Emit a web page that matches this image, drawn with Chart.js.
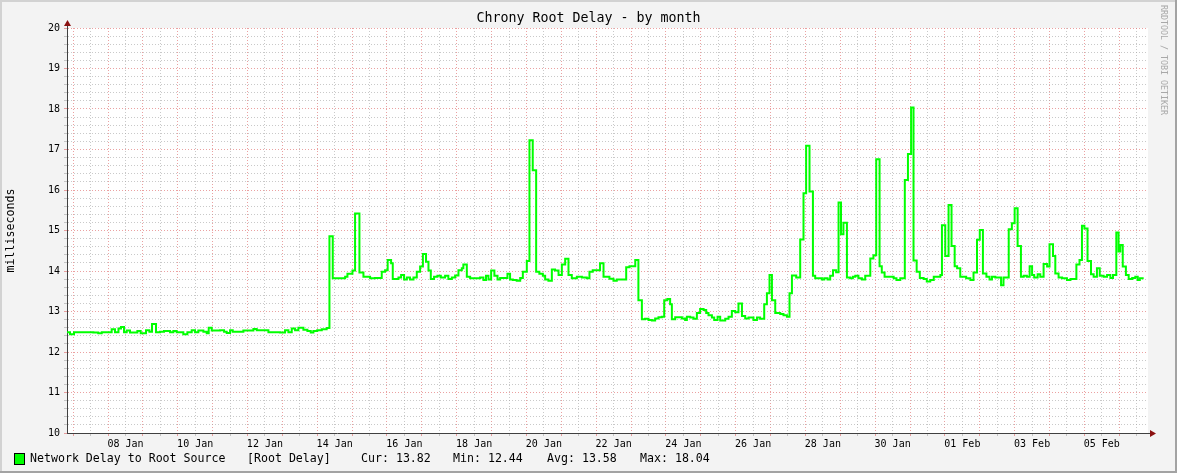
<!DOCTYPE html>
<html>
<head>
<meta charset="utf-8">
<title>Chrony Root Delay - by month</title>
<script src="https://cdn.jsdelivr.net/npm/chart.js@4.4.1/dist/chart.umd.min.js"></script>
<style>
  html, body { margin: 0; padding: 0; background: #f3f3f3; }
  #wrap { width: 1177px; height: 473px; }
</style>
</head>
<body>
<div id="wrap"><canvas id="rrd" width="1177" height="473"></canvas></div>
<script>
'use strict';

// ── Data ──────────────────────────────────────────────────────
// time of each step = days since 08 Jan 00:00, value holds until next step
const stepDays = [
  -1.176, -1.09, -0.975, -0.42, -0.28, -0.18, 0.105, 0.20, 0.30, 0.373,
  0.459, 0.535, 0.63, 0.842, 0.937, 1.09, 1.186, 1.262, 1.377, 1.49,
  1.606, 1.78, 1.874, 1.97, 2.16, 2.276, 2.40, 2.496, 2.59, 2.735,
  2.83, 2.888, 2.974, 3.213, 3.328, 3.404, 3.50, 3.576, 3.882, 4.17,
  4.265, 4.6, 4.934, 5.077, 5.173, 5.269, 5.364, 5.46, 5.603, 5.718,
  5.814, 5.89, 6.00, 6.13, 6.27,
  6.35, 6.445, 6.80, 6.866, 7.01, 7.085, 7.21, 7.325, 7.516, 7.66,
  7.85, 7.946, 8.02, 8.118, 8.166, 8.33, 8.405, 8.49, 8.57, 8.66,
  8.76, 8.855, 8.95, 9.03, 9.12, 9.19, 9.257, 9.35, 9.447, 9.544,
  9.667, 9.76, 9.86, 9.954, 10.05, 10.146, 10.19, 10.29, 10.385, 10.67,
  10.766, 10.84, 10.91, 10.987, 11.08, 11.17, 11.245, 11.455, 11.53, 11.61,
  11.72, 11.82, 11.896, 12.01, 12.086, 12.18, 12.278, 12.37, 12.47, 12.536,
  12.63, 12.728, 12.82, 12.92, 13.015, 13.11, 13.205, 13.30, 13.445, 13.59,
  13.73, 13.807, 13.90, 14.11, 14.21, 14.38, 14.495, 14.59, 14.86, 14.955,
  15.12, 15.21, 15.31, 15.40, 15.50, 15.597, 15.69, 15.786, 15.88, 15.95,
  16.04, 16.12, 16.17, 16.265, 16.457, 16.55, 16.60, 16.695, 16.79, 16.887,
  16.98, 17.08, 17.154, 17.22, 17.318, 17.384, 17.48, 17.556, 17.70, 17.795,
  17.89, 17.986, 18.08, 18.18, 18.273, 18.37, 18.51, 18.61, 18.70, 18.818,
  18.895, 18.97, 19.04, 19.134, 19.277, 19.37, 19.47, 19.544, 19.613, 19.736,
  19.85, 19.945, 20.02, 20.117, 20.215, 20.28, 20.47, 20.54, 20.635, 20.71,
  20.79, 20.88, 20.95, 21.02, 21.09, 21.19, 21.285, 21.36, 21.43, 21.52,
  21.62, 21.715, 21.86, 21.95, 22.03, 22.126, 22.19, 22.27, 22.53, 22.61,
  22.72, 22.85, 22.94, 23.03, 23.10, 23.19, 23.28, 23.39, 23.48, 23.58,
  23.68, 23.87, 23.915, 24.01, 24.105, 24.19, 24.28, 24.35, 24.44, 24.61,
  24.73, 24.82, 24.92, 25.0, 25.09, 25.19, 25.28, 25.35, 25.445, 25.61,
  25.68, 25.83, 25.92, 26.0, 26.085, 26.18, 26.26, 26.35, 26.43, 26.50,
  26.56, 26.66, 26.735, 26.83, 26.93, 27.0, 27.10, 27.166, 27.26, 27.36,
  27.50, 27.60, 27.77, 27.86, 27.93, 28.0, 28.09, 28.19, 28.265, 28.36,
  28.44, 28.55, 28.65, 28.745, 28.82, 28.915, 28.98, 29.03, 29.10, 29.19,
  29.27, 29.37, 29.46, 29.53, 29.59, 29.70
];

const delayMs = [
  12.49, 12.44, 12.49, 12.48, 12.46, 12.49, 12.56, 12.49, 12.58, 12.62,
  12.49, 12.53, 12.48, 12.52, 12.46, 12.54, 12.50, 12.69, 12.49, 12.50,
  12.52, 12.49, 12.52, 12.49, 12.44, 12.49, 12.54, 12.49, 12.53, 12.50,
  12.46, 12.60, 12.53, 12.54, 12.50, 12.47, 12.54, 12.50, 12.53, 12.57,
  12.54, 12.49, 12.48, 12.54, 12.49, 12.58, 12.54, 12.60, 12.55, 12.52,
  12.48, 12.52, 12.54, 12.56, 12.59,
  14.86, 13.82, 13.86, 13.93, 14.01, 15.42, 13.96, 13.86, 13.82, 13.83,
  13.98, 14.02, 14.27, 14.19, 13.80, 13.84, 13.90, 13.79, 13.84, 13.79,
  13.84, 13.98, 14.11, 14.42, 14.23, 14.01, 13.80, 13.86, 13.88, 13.84,
  13.88, 13.80, 13.84, 13.89, 14.02, 14.07, 14.16, 13.86, 13.82, 13.84,
  13.78, 13.88, 13.79, 14.01, 13.88, 13.79, 13.83, 13.93, 13.79, 13.78,
  13.76, 13.83, 13.98, 14.25, 17.23, 16.49, 13.98, 13.93, 13.88, 13.79,
  13.76, 14.04, 14.01, 13.90, 14.16, 14.30, 13.90, 13.82, 13.86, 13.84,
  13.82, 13.98, 14.02, 14.19, 13.86, 13.81, 13.76, 13.79, 14.09, 14.12,
  14.27, 13.28, 12.81, 12.82, 12.79, 12.78, 12.83, 12.86, 12.87, 13.28,
  13.31, 13.18, 12.81, 12.86, 12.83, 12.79, 12.87, 12.85, 12.82, 12.96,
  13.06, 13.04, 12.96, 12.91, 12.85, 12.79, 12.87, 12.78, 12.82, 12.87,
  13.01, 12.98, 13.20, 12.89, 12.83, 12.85, 12.79, 12.85, 12.82, 13.18,
  13.45, 13.90, 13.28, 12.96, 12.94, 12.91, 12.87, 13.45, 13.89, 13.84,
  14.78, 15.92, 17.09, 15.96, 13.88, 13.82, 13.79, 13.82, 13.79, 13.88,
  14.02, 13.97, 15.69, 14.91, 15.19, 13.84, 13.82, 13.86, 13.88, 13.82,
  13.79, 13.88, 14.31, 14.39, 16.76, 14.12, 13.96, 13.86, 13.82, 13.78,
  13.82, 16.25, 16.89, 18.04, 14.26, 13.98, 13.83, 13.80, 13.74, 13.78,
  13.86, 13.90, 15.13, 14.37, 15.63, 14.62, 14.12, 14.07, 13.86, 13.82,
  13.78, 13.96, 14.77, 15.01, 13.94, 13.86, 13.79, 13.86, 13.84, 13.65,
  13.84, 15.03, 15.18, 15.55, 14.62, 13.86, 13.88, 13.86, 14.12, 13.90,
  13.84, 13.92, 13.86, 14.17, 14.11, 14.66, 14.37, 13.94, 13.84, 13.82,
  13.78, 13.80, 14.16, 14.27, 15.12, 15.05, 14.25, 13.92, 13.86, 14.07,
  13.88, 13.86, 13.90, 13.83, 13.90, 14.95, 14.48, 14.64, 14.11, 13.90,
  13.80, 13.83, 13.86, 13.78, 13.82, 13.82
];

// x tick labels sit at noon of every second day, starting 08 Jan
const tickLabels = ['08 Jan', '10 Jan', '12 Jan', '14 Jan', '16 Jan', '18 Jan', '20 Jan', '22 Jan',
                    '24 Jan', '26 Jan', '28 Jan', '30 Jan', '01 Feb', '03 Feb', '05 Feb'];
const yTickLabels = [10, 11, 12, 13, 14, 15, 16, 17, 18, 19, 20];

const seriesName = 'Network Delay to Root Source';
const dsName     = '[Root Delay]';
const statNames  = ['Cur', 'Min', 'Avg', 'Max'];
const statValues = [13.82, 12.44, 13.58, 18.04];

const titleText = 'Chrony Root Delay - by month';
const yAxisText = 'milliseconds';
const watermark = 'RRDTOOL / TOBI OETIKER';

const X_MIN = -1.176;
const X_MAX = 29.824;

const FONT = '"DejaVu Sans Mono", "Liberation Mono", monospace';

// ── Frame / texts plugin ──────────────────────────────────────
const rrdFrame = {
  id: 'rrdFrame',
  beforeDraw(chart) {
    const { ctx, width, height, chartArea: a } = chart;
    ctx.save();
    ctx.fillStyle = '#f3f3f3';
    ctx.fillRect(0, 0, width, height);
    ctx.fillStyle = '#ffffff';
    ctx.fillRect(a.left, a.top, a.right - a.left, a.bottom - a.top);
    // 3d-ish outer border
    ctx.fillStyle = '#d2d2d2';
    ctx.fillRect(0, 0, width, 2);
    ctx.fillRect(0, 0, 2, height);
    ctx.fillStyle = '#a3a3a3';
    ctx.fillRect(0, height - 2, width, 2);
    ctx.fillRect(width - 2, 0, 2, height);
    ctx.restore();
  },
  afterDraw(chart) {
    const { ctx, width, chartArea: a } = chart;
    ctx.save();

    // axis extensions + arrows
    ctx.strokeStyle = '#404040';
    ctx.lineWidth = 1;
    ctx.beginPath();
    ctx.moveTo(a.left + 0.5, a.top);
    ctx.lineTo(a.left + 0.5, a.top - 4);
    ctx.moveTo(a.right, a.bottom + 0.5);
    ctx.lineTo(a.right + 3, a.bottom + 0.5);
    ctx.stroke();
    ctx.fillStyle = '#8b1010';
    ctx.beginPath();
    ctx.moveTo(a.left + 0.5, a.top - 8);
    ctx.lineTo(a.left - 3, a.top - 2);
    ctx.lineTo(a.left + 4, a.top - 2);
    ctx.closePath();
    ctx.fill();
    ctx.beginPath();
    ctx.moveTo(a.right + 8, a.bottom + 0.5);
    ctx.lineTo(a.right + 2, a.bottom - 3);
    ctx.lineTo(a.right + 2, a.bottom + 4);
    ctx.closePath();
    ctx.fill();

    // title, centred on the whole image
    ctx.fillStyle = '#000';
    ctx.textBaseline = 'middle';
    ctx.textAlign = 'center';
    ctx.font = '13.3px ' + FONT;
    ctx.fillText(titleText, width / 2, 19);

    // y axis title
    ctx.save();
    ctx.translate(11, (a.top + a.bottom) / 2);
    ctx.rotate(-Math.PI / 2);
    ctx.font = '11.6px ' + FONT;
    ctx.fillText(yAxisText, 0, 0);
    ctx.restore();

    // legend line
    ctx.fillStyle = '#00ff00';
    ctx.fillRect(15, 454, 9, 10);
    ctx.strokeStyle = '#000';
    ctx.strokeRect(14.5, 453.5, 10, 11);
    ctx.fillStyle = '#000';
    ctx.textAlign = 'left';
    ctx.font = '11.6px ' + FONT;
    ctx.fillText(seriesName, 30, 459);
    ctx.fillText(dsName, 247, 459);
    const statX = [361, 453, 547, 640];
    statNames.forEach((n, i) => ctx.fillText(`${n}: ${statValues[i].toFixed(2)}`, statX[i], 459));

    // watermark
    ctx.save();
    ctx.translate(1163, 5);
    ctx.rotate(Math.PI / 2);
    ctx.fillStyle = '#a8a8a8';
    ctx.font = '8.3px ' + FONT;
    ctx.textAlign = 'left';
    ctx.textBaseline = 'middle';
    ctx.fillText(watermark, 0, 0);
    ctx.restore();

    ctx.restore();
  }
};

// ── Chart ─────────────────────────────────────────────────────
const majorGrid = 'rgba(225,110,110,0.65)';
const minorGrid = 'rgba(165,165,165,0.6)';

new Chart(document.getElementById('rrd'), {
  type: 'line',
  data: {
    datasets: [{
      label: seriesName,
      data: stepDays.map((d, i) => ({ x: d, y: delayMs[i] })),
      borderColor: '#00ff00',
      borderWidth: 2,
      stepped: 'before',   // each value holds from its own time stamp to the next one
      pointRadius: 0,
      fill: false,
      tension: 0,
    }],
  },
  options: {
    responsive: false,
    animation: false,
    devicePixelRatio: 1,
    layout: { padding: { top: 28, right: 29, left: 0, bottom: 0 } },
    plugins: {
      legend: { display: false },
      tooltip: { enabled: false },
    },
    scales: {
      x: {
        type: 'linear',
        min: X_MIN,
        max: X_MAX,
        afterBuildTicks: s => {
          s.ticks = [];
          for (let v = -1; v <= 29.5; v += 0.5) s.ticks.push({ value: v });
        },
        afterFit: s => { s.height = 40; },
        ticks: {
          autoSkip: false,
          maxRotation: 0,
          minRotation: 0,
          padding: 2,
          color: '#000',
          font: { family: FONT, size: 10 },
          callback: v => {
            const k = (v - 0.5) / 2;
            return Number.isInteger(k) && tickLabels[k] ? tickLabels[k] : '';
          },
        },
        grid: {
          color: c => Number.isInteger(c.tick.value) ? majorGrid : minorGrid,
          tickLength: 3,
          lineWidth: 1,
        },
        border: { color: '#404040', width: 1, dash: [1, 2] },
      },
      y: {
        min: 10,
        max: 20,
        afterBuildTicks: s => {
          s.ticks = [];
          for (let i = 0; i <= 50; i++) s.ticks.push({ value: 10 + i / 5 });
        },
        afterFit: s => { s.width = 67; },
        ticks: {
          autoSkip: false,
          padding: 4,
          color: '#000',
          font: { family: FONT, size: 10 },
          callback: v => yTickLabels.includes(v) ? String(v) : '',
        },
        grid: {
          color: c => Number.isInteger(c.tick.value) ? majorGrid : minorGrid,
          tickLength: 3,
          lineWidth: 1,
        },
        border: { color: '#404040', width: 1, dash: [1, 2] },
      },
    },
  },
  plugins: [rrdFrame],
});
</script>
</body>
</html>
